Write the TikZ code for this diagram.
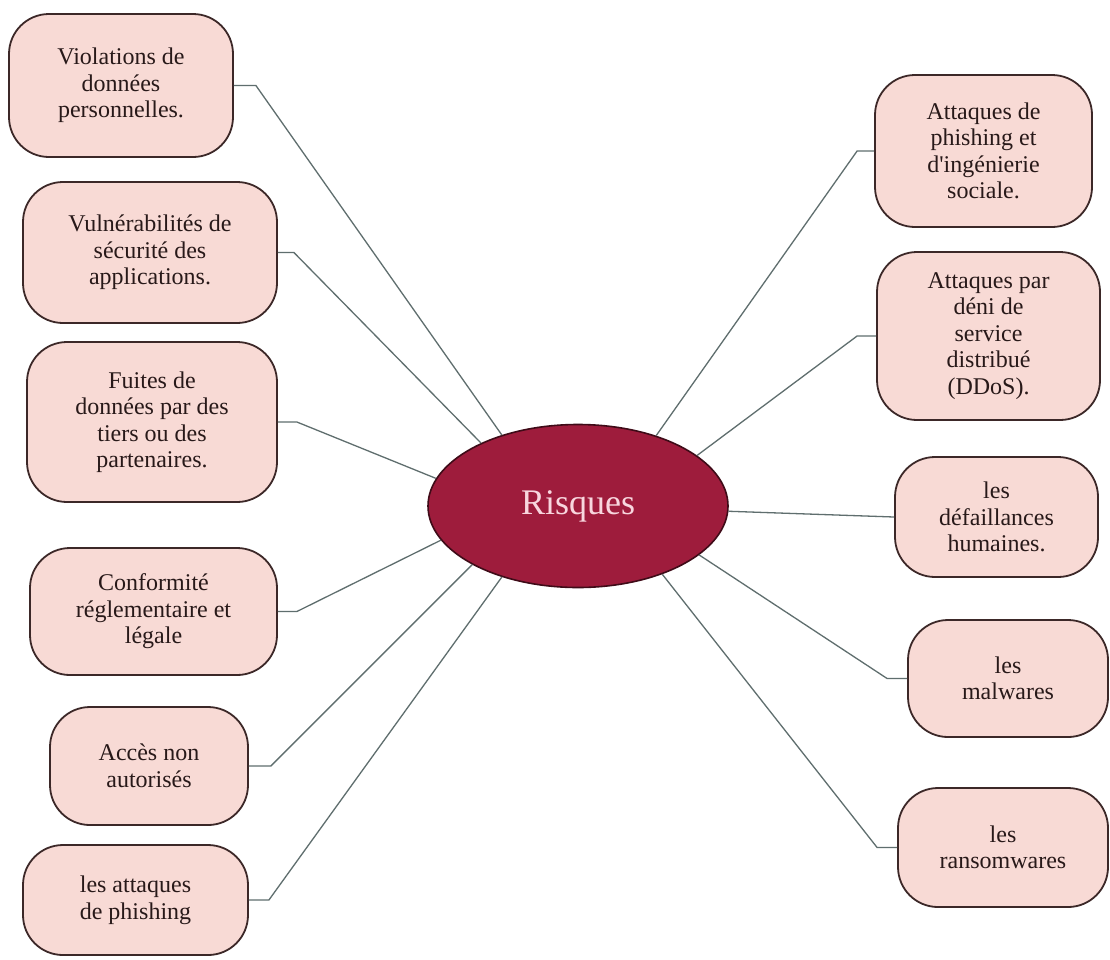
\documentclass[tikz,border=0pt]{standalone}
\usepackage{fontspec}
\setmainfont{Liberation Serif}[Ligatures=TeXOff]
\usetikzlibrary{shapes.geometric}
\definecolor{boxfill}{RGB}{248,218,213}
\definecolor{boxdraw}{RGB}{60,40,40}
\definecolor{ellfill}{RGB}{158,28,60}
\definecolor{ellpink}{RGB}{248,214,222}
\definecolor{wirecol}{RGB}{95,110,110}
\definecolor{txt}{RGB}{40,25,25}
\begin{document}
\begin{tikzpicture}[x=1pt,y=-1pt,
  riskbox/.style={draw=boxdraw, line width=1.8pt, fill=boxfill, rounded corners=40pt,
    align=center, font=\fontsize{24}{26.5}\selectfont, text=txt, inner sep=0pt},
  hub/.style={ellipse, draw=black!60!ellfill, line width=1.6pt, fill=ellfill,
    minimum width=300pt, minimum height=163pt, inner sep=0pt, text=ellpink,
    font=\fontsize{36}{40}\selectfont},
  wire/.style={draw=wirecol, line width=1.3pt}]
\useasboundingbox (0,0) rectangle (1110,959);
\fill[white] (0,0) rectangle (1110,959);

\node[hub] (R) at (578,506) {Risques};

\node[riskbox, minimum width=224pt, minimum height=143pt] (v1) at (121,85.5) {Violations de\\données\\personnelles.};
\node[riskbox, minimum width=254pt, minimum height=141pt] (v2) at (150,252.5) {Vulnérabilités de\\sécurité des\\applications.};
\node[riskbox, minimum width=250pt, minimum height=160pt] (v3) at (152,422) {Fuites de\\données par des\\tiers ou des\\partenaires.};
\node[riskbox, minimum width=247pt, minimum height=127pt] (v4) at (153.5,611.5) {Conformité\\réglementaire et\\légale};
\node[riskbox, minimum width=198pt, minimum height=118pt] (v5) at (149,766) {Accès non\\autorisés};
\node[riskbox, minimum width=225pt, minimum height=110pt] (v6) at (135.5,900) {les attaques\\de phishing};

\node[riskbox, minimum width=217pt, minimum height=152pt] (r1) at (983.5,151) {Attaques de\\phishing et\\d'ingénierie\\sociale.};
\node[riskbox, minimum width=223pt, minimum height=168pt] (r2) at (988.5,336) {Attaques par\\déni de\\service\\distribué\\(DDoS).};
\node[riskbox, minimum width=203pt, minimum height=120pt] (r3) at (996.5,517) {les\\défaillances\\humaines.};
\node[riskbox, minimum width=200pt, minimum height=117pt] (r4) at (1008,678.5) {les\\malwares};
\node[riskbox, minimum width=210pt, minimum height=119pt] (r5) at (1003,847.5) {les\\ransomwares};

\draw[wire] (v1.east) -- ++(22,0) -- (R.137);
\draw[wire] (v2.east) -- ++(16,0) -- (R.147);
\draw[wire] (v3.east) -- ++(19,0) -- (R.169);
\draw[wire] (v4.east) -- ++(19,0) -- (R.194);
\draw[wire] (v5.east) -- ++(22,0) -- (R.209);
\draw[wire] (v6.east) -- ++(20,0) -- (R.223);
\draw[wire] (r1.west) -- ++(-17,0) -- (R.42);
\draw[wire] (r2.west) -- ++(-19,0) -- (R.23);
\draw[wire] (r3.west) -- (R.-2);
\draw[wire] (r4.west) -- ++(-20,0) -- (R.-22);
\draw[wire] (r5.west) -- ++(-20,0) -- (R.-39);
\end{tikzpicture}
\end{document}
